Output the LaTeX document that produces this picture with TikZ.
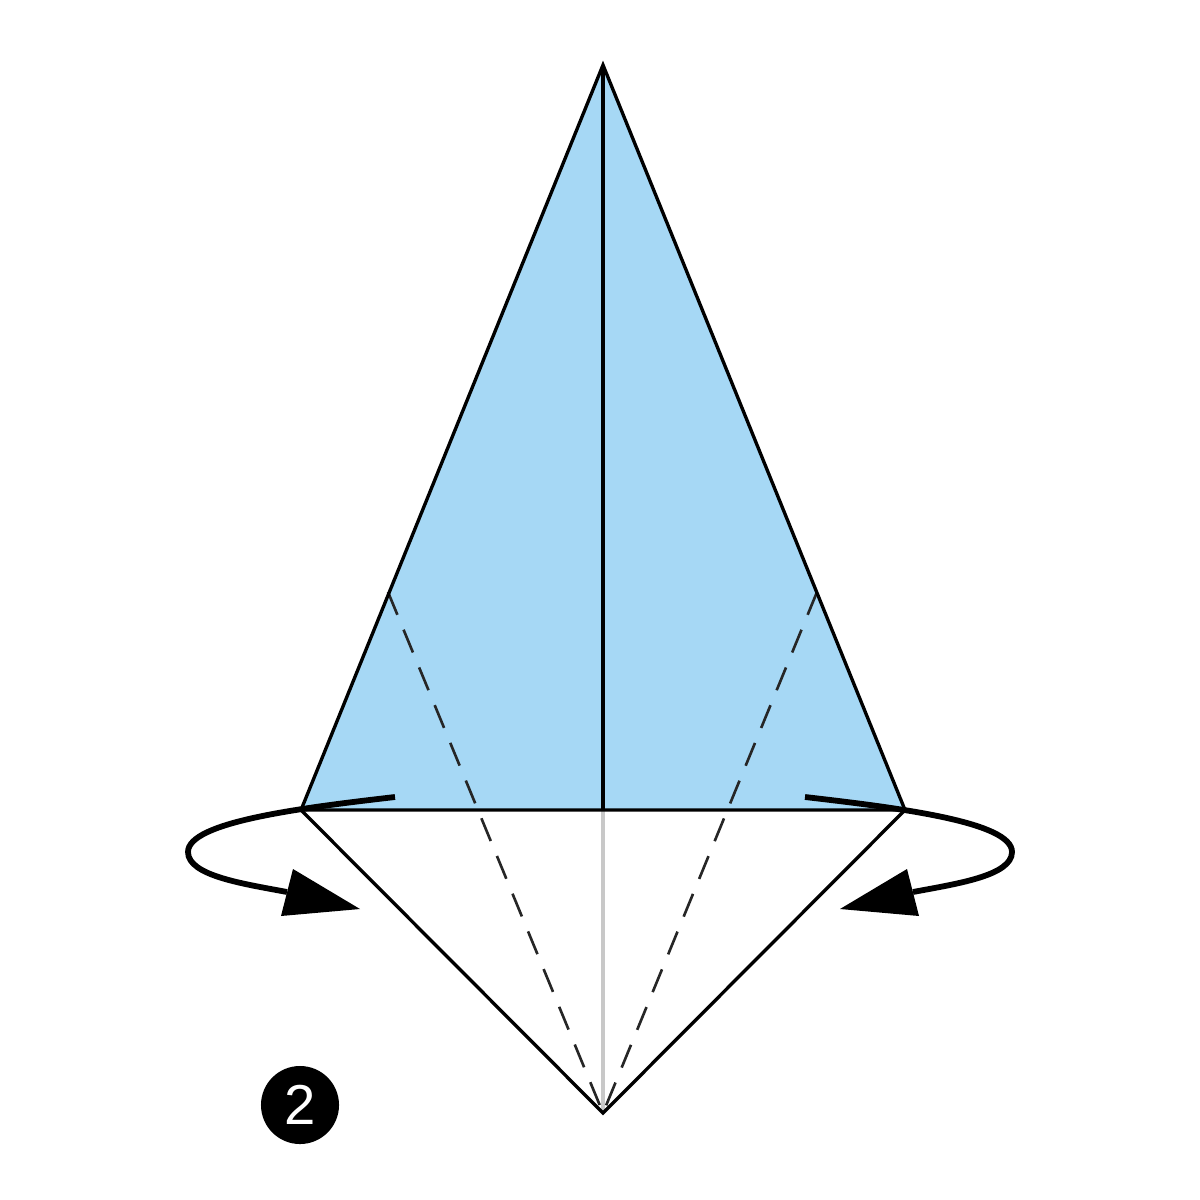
\documentclass[tikz,border=0pt]{standalone}
\usepackage{fontspec}
\setmainfont{Liberation Sans}
\definecolor{paperblue}{RGB}{166,216,245}
\definecolor{creasegray}{RGB}{200,200,200}
\tikzset{
  edge/.style={line width=0.95pt, black, line join=miter},
  valley/.style={line width=0.75pt, black!85, dash pattern=on 7pt off 4.6pt},
  turnarrow/.style={line width=1.65pt, black},
  arrowhead/.style={fill=black, draw=none},
}
\begin{document}
\begin{tikzpicture}[x=0.01cm,y=-0.01cm]
\useasboundingbox (0,0) rectangle (1200,1200);
\coordinate (apex) at (603,65);
\coordinate (bl) at (301,810);
\coordinate (br) at (905,810);
\coordinate (mid) at (603,810);
\coordinate (bot) at (603,1113);
\coordinate (dl) at (388,592);
\coordinate (dr) at (817,592);
% blue upper triangle
\fill[paperblue] (apex) -- (bl) -- (br) -- cycle;
% grey crease
\draw[creasegray, line width=0.9pt] (mid) -- (bot);
% valley folds
\draw[valley] (dl) -- (bot);
\draw[valley] (dr) -- (bot);
% outlines
\draw[edge] (apex) -- (bl) -- (br) -- cycle;
\draw[edge] (bl) -- (bot) -- (br);
\draw[edge] (apex) -- (mid);
% left turn arrow
\coordinate (ls) at (395,797);
\coordinate (ll) at (188,852);
\coordinate (le) at (287,892);
\draw[turnarrow] (ls) .. controls (300,808) and (188,822) .. (ll)
  .. controls (188,876) and (245,884) .. (le);
\fill[arrowhead] (293,869) -- (281,916) -- (360,909) -- cycle;
% right turn arrow
\coordinate (rs) at (805,797);
\coordinate (rl) at (1012,852);
\coordinate (re) at (913,892);
\draw[turnarrow] (rs) .. controls (900,808) and (1012,822) .. (rl)
  .. controls (1012,876) and (955,884) .. (re);
\fill[arrowhead] (907,869) -- (919,916) -- (840,909) -- cycle;
% step number
\node[circle, fill=black, minimum size=0.78cm, inner sep=0pt, text=white,
  font=\fontsize{16}{16}\selectfont] (num) at (300,1105) {2};
\end{tikzpicture}
\end{document}
